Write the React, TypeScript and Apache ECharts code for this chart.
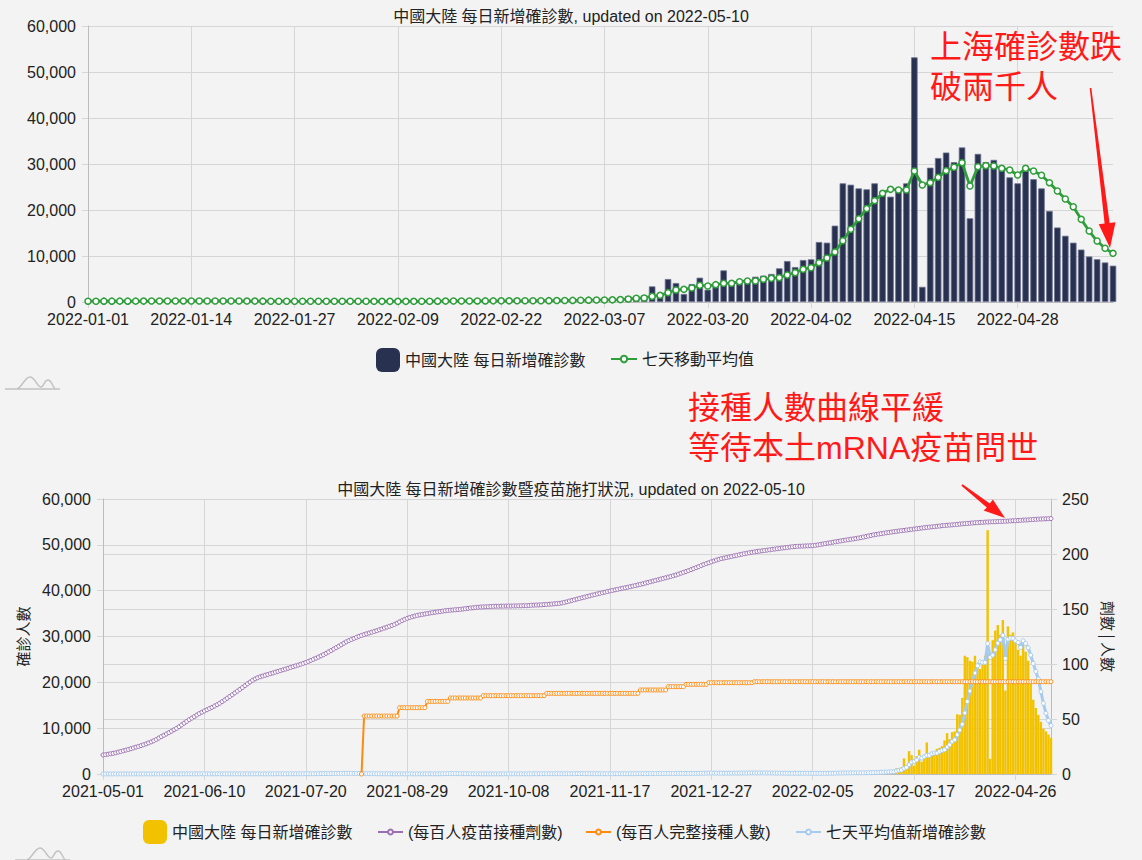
import React, { useEffect, useRef } from 'react';
import * as echarts from 'echarts';

const FONT = "'Liberation Sans', Arial, 'Noto Sans CJK TC', sans-serif";
const CJK = "'Noto Sans CJK TC', 'Liberation Sans', sans-serif";
const BG = '#f3f3f3';
const TXT = '#222';
const GRID = '#d6d6d6';
const AXIS = '#bdbdbd';
const SPLIT = 390; // height of the upper chart

function makeDates(start: string, n: number): string[] {
  const d0 = new Date(start + 'T00:00:00Z').getTime();
  const out: string[] = [];
  for (let i = 0; i < n; i++) out.push(new Date(d0 + i * 86400000).toISOString().slice(0, 10));
  return out;
}

// categories
const topDates = makeDates('2022-01-01', 130);
const bottomDates = makeDates('2021-05-01', 375);

// 2022-01-01 .. 2022-05-10 daily new cases
const casesDaily2022 = [
  175, 160, 190, 210, 180, 165, 200, 230, 240, 260,
  250, 230, 220, 210, 240, 235, 220, 200, 190, 180,
  170, 160, 150, 140, 160, 150, 140, 145, 150, 160, 170,
  180, 160, 150, 140, 130, 120, 130, 140, 150, 160,
  170, 200, 210, 230, 250, 240, 220, 230, 240, 260,
  250, 240, 260, 280, 270, 290, 300, 320,
  350, 400, 420, 450, 480, 520,
  650, 650, 800, 1230, 1230, 1450, 3400, 1800, 5000, 4130,
  1740, 3900, 5290, 2680, 3700, 6880, 3840, 4060, 4640, 5500,
  5720, 6090, 7320, 8910, 7600,
  9130, 9280, 13040, 12900, 16600, 25800, 25500, 24700, 24500, 25800,
  23500, 22900, 24000, 25800, 53200, 3300, 29200, 31300, 32500, 30400,
  33600, 18200, 32200, 30400, 30900, 29200, 27100, 25800, 28500, 26700,
  24700, 19800, 16200, 14400, 12900, 11400, 9900, 9300, 8600, 7900,
];

// 2022-01-01 .. 2022-05-10 seven-day moving average
const movingAvg2022 = [
  180, 178, 182, 188, 190, 188, 190, 197, 205, 215,
  225, 232, 235, 232, 230, 228, 225, 222, 215, 208,
  200, 192, 182, 172, 165, 160, 155, 152, 150, 152, 155,
  158, 158, 156, 154, 150, 145, 140, 138, 138, 140,
  145, 155, 168, 182, 198, 212, 222, 230, 235, 240,
  245, 248, 250, 255, 262, 270, 280, 292,
  310, 330, 350, 375, 400, 420,
  450, 470, 520, 650, 800, 870, 1230, 1450, 2030, 2600,
  2750, 3040, 3620, 3480, 3770, 4060, 4060, 4420, 4570, 4570,
  4930, 5140, 5290, 5870, 6380,
  7100, 7460, 8550, 9570, 10870, 13330, 15800, 18100, 20300, 22030,
  23620, 24490, 24350, 24350, 28480, 25430, 25940, 27100, 28550, 29280,
  30290, 25220, 29420, 29640, 29570, 29060, 28700, 27610, 29060, 28480,
  27540, 25940, 24130, 22390, 20720, 17970, 15430, 13260, 11670, 10580,
];

// 2021-05-01 .. 2021-12-31 daily new cases (near zero at chart scale)
const casesDaily2021 = [
  12, 15, 9, 14, 18, 13, 11, 16, 20, 15, 17, 14, 19, 22, 16, 14, 21, 18, 15, 23,
  25, 19, 17, 27, 30, 24, 28, 32, 26, 22, 29,
  24, 27, 31, 28, 33, 30, 26, 29, 35, 32, 28, 25, 30, 27, 33, 29, 26, 31, 28, 24,
  30, 27, 25, 29, 32, 28, 26, 23, 27, 30,
  25, 28, 31, 27, 24, 30, 35, 39, 42, 38, 33, 36, 40, 44, 41, 37, 35, 39, 43, 46,
  50, 48, 52, 60, 75, 78, 85, 90, 88, 96, 110,
  120, 125, 118, 130, 140, 135, 128, 122, 115, 108, 100, 95, 85, 78, 70, 62, 55, 50, 45, 40,
  36, 32, 30, 28, 26, 24, 25, 27, 29, 31, 30,
  28, 26, 25, 27, 30, 32, 35, 33, 31, 29, 40, 55, 70, 85, 90, 95, 88, 80, 72, 65,
  58, 50, 45, 40, 36, 33, 31, 30, 28, 27,
  26, 24, 25, 27, 28, 30, 29, 31, 33, 32, 30, 28, 27, 29, 31, 34, 38, 42, 45, 48,
  52, 55, 58, 60, 62, 65, 63, 60, 58, 55, 52,
  55, 62, 70, 75, 78, 80, 76, 72, 70, 68, 65, 62, 60, 58, 55, 52, 50, 48, 50, 52,
  55, 58, 60, 62, 65, 68, 72, 75, 78, 80,
  82, 85, 88, 90, 92, 95, 98, 100, 102, 105, 108, 110, 112, 115, 118, 120, 122, 125, 128, 130,
  135, 140, 150, 165, 180, 195, 210, 200, 190, 185, 180,
];

// 2021-05-01 .. 2022-05-10 vaccine doses per hundred people
const dosesPer100 = [
  17.3, 17.6, 18.0, 18.4, 18.8, 19.3, 19.9, 20.5, 21.1, 21.7,
  22.3, 23.0, 23.7, 24.4, 25.1, 25.8, 26.6, 27.4, 28.3, 29.2,
  30.2, 31.4, 32.7, 34.0, 35.2, 36.4, 37.6, 38.9, 40.2, 41.5,
  43.0, 44.6, 46.2, 47.8, 49.4, 50.8, 52.2, 53.6, 55.0, 56.2,
  57.3, 58.4, 59.5, 60.6, 61.8, 63.0, 64.3, 65.8, 67.3, 68.9,
  70.5, 72.1, 73.7, 75.3, 76.9, 78.6, 80.3, 82.0, 83.6, 85.2,
  86.5, 87.5, 88.4, 89.1, 89.8, 90.5, 91.2, 91.9, 92.6, 93.3,
  94.0, 94.7, 95.4, 96.1, 96.9, 97.6, 98.3, 99.0, 99.8, 100.6,
  101.4, 102.3, 103.3, 104.3, 105.3, 106.3, 107.4, 108.5, 109.7, 111.0,
  112.3, 113.6, 114.9, 116.2, 117.5, 118.9, 120.2, 121.3, 122.3, 123.3,
  124.3, 125.2, 126.0, 126.8, 127.5, 128.2, 128.9, 129.6, 130.3, 131.1,
  131.9, 132.7, 133.5, 134.3, 135.1, 136.0, 137.1, 138.3, 139.5, 140.6,
  141.5, 142.3, 143.0, 143.6, 144.2, 144.7, 145.1, 145.5, 145.9, 146.3,
  146.7, 147.0, 147.4, 147.7, 148.1, 148.4, 148.7, 148.9, 149.1, 149.3,
  149.5, 149.7, 150.0, 150.3, 150.6, 150.9, 151.1, 151.4, 151.6, 151.8,
  151.9, 152.0, 152.1, 152.3, 152.4, 152.5, 152.5, 152.6, 152.6, 152.7,
  152.7, 152.7, 152.8, 152.8, 152.9, 152.9, 153.0, 153.0, 153.2, 153.4,
  153.5, 153.6, 153.7, 153.8, 154.0, 154.1, 154.3, 154.5, 154.7, 154.9,
  155.1, 155.5, 156.0, 156.6, 157.2, 157.8, 158.4, 159.0, 159.6, 160.2,
  160.8, 161.4, 162.0, 162.6, 163.1, 163.7, 164.2, 164.8, 165.3, 165.9,
  166.4, 166.9, 167.4, 167.9, 168.4, 168.9, 169.3, 169.8, 170.3, 170.8,
  171.3, 171.9, 172.4, 173.0, 173.6, 174.2, 174.8, 175.4, 176.0, 176.6,
  177.2, 177.8, 178.4, 179.0, 179.6, 180.2, 180.9, 181.7, 182.5, 183.3,
  184.1, 184.9, 185.8, 186.7, 187.6, 188.5, 189.5, 190.5, 191.3, 192.1,
  192.9, 193.7, 194.5, 195.2, 195.8, 196.3, 196.8, 197.3, 197.8, 198.3,
  198.8, 199.3, 199.8, 200.3, 200.7, 201.1, 201.5, 201.9, 202.3, 202.6,
  202.9, 203.2, 203.5, 203.8, 204.2, 204.5, 204.8, 205.1, 205.4, 205.7,
  206.0, 206.3, 206.6, 206.8, 207.0, 207.1, 207.2, 207.3, 207.4, 207.5,
  207.6, 207.9, 208.3, 208.7, 209.1, 209.5, 209.9, 210.3, 210.7, 211.1,
  211.5, 211.9, 212.3, 212.7, 213.0, 213.4, 213.7, 214.1, 214.5, 214.9,
  215.4, 215.9, 216.4, 216.9, 217.4, 217.8, 218.2, 218.5, 218.9, 219.3,
  219.6, 219.9, 220.3, 220.6, 220.9, 221.2, 221.5, 221.8, 222.1, 222.4,
  222.7, 223.0, 223.3, 223.6, 223.9, 224.2, 224.4, 224.7, 224.9, 225.2,
  225.4, 225.7, 225.9, 226.1, 226.3, 226.5, 226.7, 226.9, 227.2, 227.4,
  227.6, 227.8, 228.0, 228.2, 228.4, 228.5, 228.7, 228.8, 229.0, 229.1,
  229.2, 229.3, 229.4, 229.5, 229.6, 229.7, 229.8, 229.9, 230.1, 230.2,
  230.3, 230.5, 230.6, 230.8, 230.9, 231.0, 231.2, 231.4, 231.5, 231.7,
  231.8, 231.9, 232.0, 232.1, 232.2,
];

// fully vaccinated per hundred: reported step values and how many days each lasts, from 2021-08-11
const fullyVaccStart = '2021-08-11';
const fullyVaccValues = [0, 52.7, 60.3, 66.0, 69.1, 71.2, 73.3, 76.4, 79.4, 81.5, 83.0, 83.9];
const fullyVaccDays = [1, 14, 11, 9, 13, 25, 37, 11, 7, 9, 18, 118];

const yTicks = { min: 0, max: 60000, interval: 10000 };
const yTicksRight = { min: 0, max: 250, interval: 50 };

echarts.graphic.registerShape(
  'logo',
  echarts.graphic.extendPath(
    'M0 13 L55 13 M12 13 C17 11 20 1 25 1 C30 1 32 11 36 11 C39 11 39 4 43 4 C47 4 48 13 51 13',
    {}
  )
);

const fmt = (v: number) => v.toLocaleString('en-US');
const RED = '#ff1a1a';

function redText(text: string, x: number, y: number): any {
  return {
    type: 'text', x, y,
    style: { text, fontSize: 32, fill: RED, fontFamily: FONT, verticalAlign: 'middle', align: 'left' },
    z: 100,
  };
}

function buildTop(): any {
  return {
    animation: false,
    backgroundColor: 'transparent',
    textStyle: { fontFamily: FONT },
    title: {
      text: '中國大陸 每日新增確診數, updated on 2022-05-10',
      left: 'center',
      top: 3,
      textStyle: { fontSize: 16, fontWeight: 'normal', color: TXT, fontFamily: FONT },
    },
    grid: { left: 88, right: 29, top: 26, height: 276 },
    legend: [
      {
        data: ['中國大陸 每日新增確診數'],
        left: 371, top: 343, itemWidth: 24, itemHeight: 24, icon: 'roundRect',
        itemStyle: { borderWidth: 0 },
        selectedMode: false,
        textStyle: { fontSize: 16, color: TXT, fontFamily: FONT },
      },
      {
        data: ['七天移動平均值'],
        left: 605, top: 346, itemWidth: 26, itemHeight: 8,
        selectedMode: false,
        textStyle: { fontSize: 16, color: TXT, fontFamily: FONT },
      },
    ],
    xAxis: {
      type: 'category',
      data: topDates,
      boundaryGap: false,
      axisLine: { lineStyle: { color: AXIS } },
      axisTick: { show: true, interval: 12, length: 6, lineStyle: { color: GRID } },
      axisLabel: { interval: 12, fontSize: 16, color: TXT, margin: 9, fontFamily: FONT },
      splitLine: { show: true, interval: 12, lineStyle: { color: GRID } },
    },
    yAxis: {
      type: 'value',
      ...yTicks,
      axisLine: { show: true, lineStyle: { color: AXIS } },
      axisTick: { show: true, length: 6, lineStyle: { color: GRID } },
      axisLabel: { fontSize: 16, color: TXT, margin: 12, formatter: fmt, fontFamily: FONT },
      splitLine: { show: true, lineStyle: { color: GRID } },
    },
    series: [
      {
        name: '中國大陸 每日新增確診數',
        type: 'bar',
        data: casesDaily2022,
        barCategoryGap: '18%',
        itemStyle: { color: '#283150', borderColor: '#6d7391', borderWidth: 0.8 },
        z: 2,
      },
      {
        name: '七天移動平均值',
        type: 'line',
        data: movingAvg2022,
        symbol: 'circle',
        symbolSize: 6,
        showAllSymbol: true,
        lineStyle: { color: '#2e9e3a', width: 2.8 },
        itemStyle: { color: '#ffffff', borderColor: '#2e9e3a', borderWidth: 1.5 },
        z: 3,
      },
    ],
    graphic: [
      redText('上海確診數跌', 930, 47),
      redText('破兩千人', 930, 87),
      {
        type: 'polygon',
        shape: {
          points: [[1091.3, 87.9], [1109.6, 222.9], [1115.5, 222.2], [1110, 248], [1098.7, 224.2], [1104.6, 223.5], [1089.7, 88.1]],
        },
        style: { fill: RED },
        z: 100,
      },
      {
        type: 'logo', x: 5, y: 376,
        style: { fill: 'none', stroke: '#c2c2c2', lineWidth: 1.5 },
        z: 100,
      },
    ],
  };
}

function buildBottom(): any {
  const startIdx = bottomDates.indexOf(fullyVaccStart);
  const fullyVaccData: [string, number][] = [];
  let k = startIdx;
  fullyVaccValues.forEach((v, j) => {
    for (let r = 0; r < fullyVaccDays[j]; r++) {
      fullyVaccData.push([bottomDates[k], v]);
      k++;
    }
  });
  const cases = [...casesDaily2021, ...casesDaily2022];
  const avg = [...casesDaily2021, ...movingAvg2022];
  const off = SPLIT;
  const gTop = 499 - off;
  return {
    animation: false,
    backgroundColor: 'transparent',
    textStyle: { fontFamily: FONT },
    title: {
      text: '中國大陸 每日新增確診數暨疫苗施打狀況, updated on 2022-05-10',
      left: 'center',
      top: 481 - off - 5,
      textStyle: { fontSize: 16, fontWeight: 'normal', color: TXT, fontFamily: FONT },
    },
    grid: { left: 103, right: 91, top: gTop, height: 275 },
    legend: [
      {
        data: ['中國大陸 每日新增確診數'],
        left: 138, top: 820 - off - 5, itemWidth: 24, itemHeight: 24, icon: 'roundRect',
        itemStyle: { borderWidth: 0 },
        selectedMode: false,
        textStyle: { fontSize: 16, color: TXT, fontFamily: FONT },
      },
      {
        data: ['(每百人疫苗接種劑數)'],
        left: 372, top: 824 - off - 5, itemWidth: 25, itemHeight: 6,
        selectedMode: false,
        textStyle: { fontSize: 16, color: TXT, fontFamily: FONT },
      },
      {
        data: ['(每百人完整接種人數)'],
        left: 580, top: 824 - off - 5, itemWidth: 25, itemHeight: 6,
        selectedMode: false,
        textStyle: { fontSize: 16, color: TXT, fontFamily: FONT },
      },
      {
        data: ['七天平均值新增確診數'],
        left: 790, top: 824 - off - 5, itemWidth: 25, itemHeight: 6,
        selectedMode: false,
        textStyle: { fontSize: 16, color: TXT, fontFamily: FONT },
      },
    ],
    xAxis: {
      type: 'category',
      data: bottomDates,
      boundaryGap: false,
      axisLine: { lineStyle: { color: AXIS } },
      axisTick: { show: true, interval: 39, length: 6, lineStyle: { color: GRID } },
      axisLabel: { interval: 39, fontSize: 16, color: TXT, margin: 9, fontFamily: FONT },
      splitLine: { show: true, interval: 39, lineStyle: { color: GRID } },
    },
    yAxis: [
      {
        type: 'value',
        ...yTicks,
        name: '確診人數',
        nameLocation: 'middle',
        nameRotate: 90,
        nameGap: 73,
        nameTextStyle: { fontSize: 15, color: TXT, fontFamily: CJK },
        axisLine: { show: true, lineStyle: { color: AXIS } },
        axisTick: { show: true, length: 6, lineStyle: { color: GRID } },
        axisLabel: { fontSize: 16, color: TXT, margin: 12, formatter: fmt, fontFamily: FONT },
        splitLine: { show: true, lineStyle: { color: GRID } },
      },
      {
        type: 'value',
        position: 'right',
        ...yTicksRight,
        name: '劑數 | 人數',
        nameLocation: 'middle',
        nameRotate: -90,
        nameGap: 50,
        nameTextStyle: { fontSize: 15, color: TXT, fontFamily: CJK },
        axisLine: { show: true, lineStyle: { color: AXIS } },
        axisTick: { show: true, length: 6, lineStyle: { color: GRID } },
        axisLabel: { fontSize: 16, color: TXT, margin: 11, fontFamily: FONT },
        splitLine: { show: true, lineStyle: { color: GRID } },
      },
    ],
    series: [
      {
        name: '中國大陸 每日新增確診數',
        type: 'bar',
        data: cases,
        yAxisIndex: 0,
        barCategoryGap: '5%',
        itemStyle: { color: '#f2c200' },
        z: 2,
      },
      {
        name: '七天平均值新增確診數',
        type: 'line',
        data: avg,
        yAxisIndex: 0,
        symbol: 'circle',
        symbolSize: 4,
        showAllSymbol: true,
        lineStyle: { color: '#a6cbee', width: 3 },
        itemStyle: { color: '#ffffff', borderColor: '#a6cbee', borderWidth: 1 },
        z: 3,
      },
      {
        name: '(每百人完整接種人數)',
        type: 'line',
        data: fullyVaccData,
        yAxisIndex: 1,
        symbol: 'circle',
        symbolSize: 4,
        showAllSymbol: true,
        lineStyle: { color: '#ff8a10', width: 2 },
        itemStyle: { color: '#ffffff', borderColor: '#ff8a10', borderWidth: 1 },
        z: 4,
      },
      {
        name: '(每百人疫苗接種劑數)',
        type: 'line',
        data: dosesPer100,
        yAxisIndex: 1,
        symbol: 'circle',
        symbolSize: 4,
        showAllSymbol: true,
        lineStyle: { color: '#9b6fb2', width: 2 },
        itemStyle: { color: '#ffffff', borderColor: '#9b6fb2', borderWidth: 1 },
        z: 5,
      },
    ],
    graphic: [
      redText('接種人數曲線平緩', 688, 408 - off),
      redText('等待本土mRNA疫苗問世', 688, 448 - off),
      {
        type: 'polygon',
        shape: {
          points: [[962.6, 484.2 - off], [989.8, 503.6 - off], [992.9, 499.6 - off], [1005, 518 - off], [983.6, 510.6 - off], [986.8, 507.6 - off], [961.4, 485.8 - off]],
        },
        style: { fill: RED },
        z: 100,
      },
      {
        type: 'logo', x: 15, y: 847 - off,
        style: { fill: 'none', stroke: '#c2c2c2', lineWidth: 1.5 },
        z: 100,
      },
    ],
  };
}

export default function App() {
  const topRef = useRef<HTMLDivElement>(null);
  const botRef = useRef<HTMLDivElement>(null);
  useEffect(() => {
    document.body.style.margin = '0';
    document.body.style.background = BG;
    const top = echarts.init(topRef.current as HTMLDivElement, null, { renderer: 'svg' });
    const bot = echarts.init(botRef.current as HTMLDivElement, null, { renderer: 'svg' });
    top.setOption(buildTop());
    bot.setOption(buildBottom());
    return () => {
      top.dispose();
      bot.dispose();
    };
  }, []);
  return (
    <div style={{ width: 1142, height: 860, background: BG, overflow: 'hidden' }}>
      <div ref={topRef} style={{ width: 1142, height: SPLIT }} />
      <div ref={botRef} style={{ width: 1142, height: 860 - SPLIT }} />
    </div>
  );
}
